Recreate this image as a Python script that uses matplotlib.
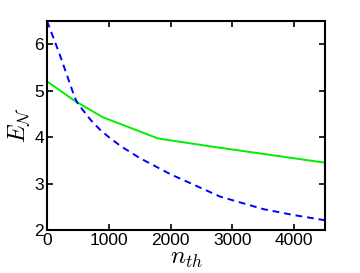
import matplotlib

matplotlib.use("Agg")
import matplotlib.pyplot as plt

plt.rcParams.update({
    "font.family": ["Liberation Sans", "DejaVu Sans"],
    "mathtext.fontset": "cm",
    "font.size": 10,
})

# thermal occupation n_th
n_green = [0, 450, 900, 1350, 1800, 2700, 3600, 4500]
e_green = [5.2, 4.78, 4.43, 4.2, 3.97, 3.79, 3.62, 3.45]

n_blue = [0, 200, 450, 500, 700, 850, 1000, 1200, 1500, 2000, 2500, 2800, 3500, 4000, 4500]
e_blue = [6.5, 5.8, 4.85, 4.72, 4.38, 4.17, 4.0, 3.8, 3.55, 3.2, 2.9, 2.72, 2.45, 2.32, 2.21]

fig = plt.figure(figsize=(3.6, 2.73), dpi=100)
ax = fig.add_axes([0.1306, 0.1575, 0.7722, 0.7655])

ax.plot(n_green, e_green, color="#00ee00", linewidth=1.4)
ax.plot(n_blue, e_blue, color="#0000ff", linewidth=1.4, linestyle=(0, (3.5, 2.5)))

ax.set_xlim(0, 4500)
ax.set_ylim(2, 6.5)
ax.set_xticks([0, 1000, 2000, 3000, 4000])
ax.set_yticks([2, 3, 4, 5, 6])
ax.tick_params(direction="in", top=True, right=True, length=4, width=1.2, labelsize=12.5, pad=2)
for s in ax.spines.values():
    s.set_linewidth(1.5)

ax.set_xlabel(r"$n_{th}$", fontsize=18, labelpad=-1)
ax.set_ylabel(r"$E_{\mathcal{N}}$", fontsize=17, labelpad=1)

fig.savefig("out.png", dpi=100)
